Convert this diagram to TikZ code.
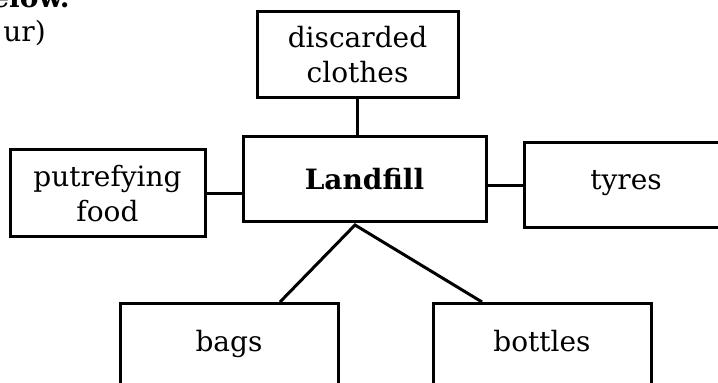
\documentclass[tikz,border=0pt]{standalone}
\usepackage{fontspec}
\setmainfont{DejaVu Serif}
\begin{document}
\begin{tikzpicture}[x=0.5pt,y=-0.5pt,
  box/.style={draw,line width=1.5pt,align=center,inner sep=0pt,font=\fontsize{14}{17.5}\selectfont},
  link/.style={line width=1.5pt},
  scrap/.style={inner sep=0pt,font=\fontsize{14}{17.5}\selectfont}]
\useasboundingbox (0,0) rectangle (718,383);
\clip (0,0) rectangle (718,383);
\node[scrap,anchor=base west,font=\fontsize{14}{17.5}\selectfont\bfseries] (head) at (-9,8) {elow.};
\node[scrap,anchor=base west] (note) at (3,42) {ur)};
\node[box,minimum width=100.5pt,minimum height=43pt] (clothes) at (357.5,55) {discarded\\clothes};
\node[box,minimum width=121.5pt,minimum height=42.5pt,font=\fontsize{14}{17.5}\selectfont\bfseries] (land) at (364.5,179.5) {Landfill};
\node[box,minimum width=97.5pt,minimum height=43.5pt] (food) at (107.5,193.5) {putrefying\\food};
\node[box,minimum width=102pt,minimum height=42.5pt,text height=10pt,text depth=6pt] (tyres) at (626,185.5) {tyres};
\node[box,anchor=north,minimum width=109pt,minimum height=60pt,text height=10pt,text depth=22pt] (bags) at (229,302) {bags};
\node[box,anchor=north,minimum width=109pt,minimum height=60pt,text height=10pt,text depth=22pt] (bottles) at (542,302) {bottles};
\coordinate (apex) at (355,225);
\coordinate (bagstop) at (280,302);
\coordinate (bottlestop) at (482,302);
\draw[link] (clothes.south) -- (clothes.south |- land.north);
\draw[link] (food.east) -- (food.east -| land.west);
\draw[link] (tyres.west -| land.east) -- (tyres.west);
\draw[link] (bagstop) -- (apex) -- (bottlestop);
\end{tikzpicture}
\end{document}
